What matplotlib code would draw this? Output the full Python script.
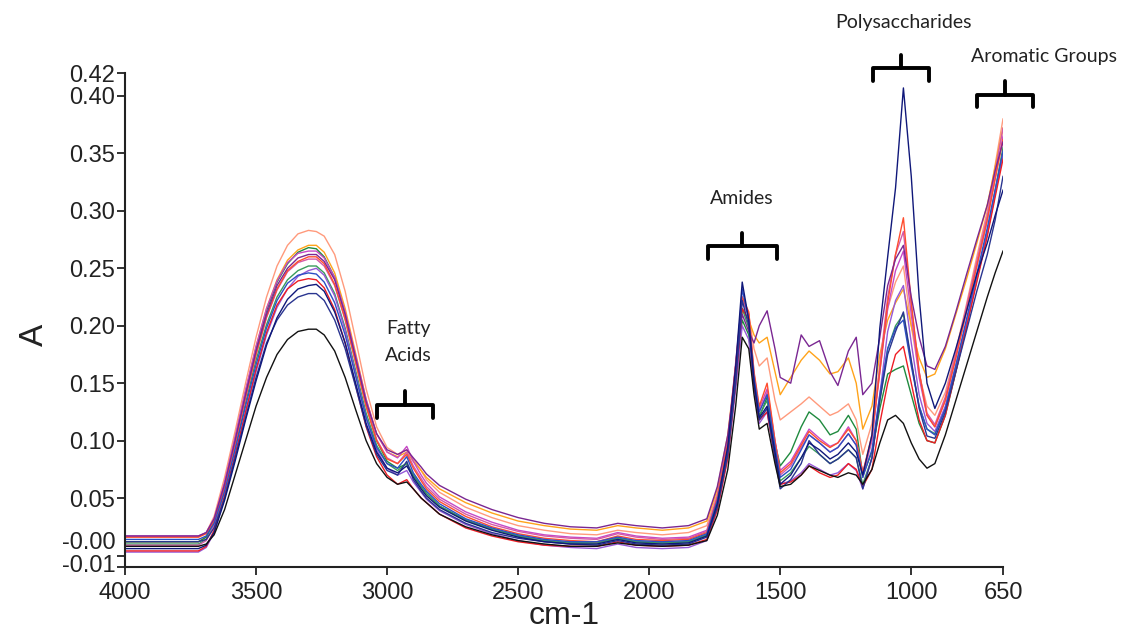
import matplotlib
matplotlib.use("Agg")
import matplotlib.pyplot as plt
import matplotlib.transforms as mtransforms

# wavenumber grid (cm-1) shared by all spectra
wavenumbers = [4000, 3720, 3690, 3660, 3620, 3580, 3540, 3500, 3460, 3420, 3380, 3340, 3300, 3270, 3240,
               3200, 3160, 3120, 3080, 3040, 3000, 2960, 2925, 2900, 2870, 2850, 2800, 2700, 2600, 2500,
               2400, 2300, 2200, 2120, 2050, 1950, 1850, 1780, 1740, 1700, 1670, 1645, 1620, 1600, 1580,
               1550, 1520, 1500, 1460, 1420, 1390, 1350, 1310, 1280, 1240, 1210, 1185, 1150, 1120, 1090,
               1060, 1030, 1000, 970, 940, 910, 870, 830, 790, 750, 710, 680, 650]

# absorbance of each sample
spec_salmon = [0.016, 0.016, 0.020, 0.034, 0.068, 0.108, 0.150, 0.190, 0.225, 0.252, 0.270, 0.280, 0.283, 0.282, 0.278, 0.262, 0.230, 0.188, 0.145, 0.112, 0.094,
               0.088, 0.092, 0.084, 0.074, 0.066, 0.055, 0.042, 0.033, 0.026, 0.022, 0.019, 0.018, 0.022, 0.020, 0.018, 0.020, 0.026,
               0.055, 0.100, 0.165, 0.225, 0.210, 0.180, 0.165, 0.172, 0.135, 0.118, 0.125, 0.132, 0.138, 0.130, 0.122, 0.125, 0.132, 0.118, 0.088,
               0.115, 0.165, 0.215, 0.238, 0.252, 0.200, 0.158, 0.130, 0.122, 0.142, 0.178, 0.218, 0.260, 0.300, 0.340, 0.380]
spec_orange = [0.012, 0.012, 0.016, 0.030, 0.062, 0.102, 0.143, 0.182, 0.215, 0.240, 0.257, 0.266, 0.270, 0.270, 0.264, 0.246, 0.215, 0.176, 0.136, 0.106, 0.090,
               0.086, 0.090, 0.082, 0.074, 0.068, 0.058, 0.046, 0.037, 0.030, 0.026, 0.023, 0.022, 0.026, 0.024, 0.022, 0.024, 0.030,
               0.058, 0.105, 0.165, 0.215, 0.205, 0.192, 0.185, 0.190, 0.160, 0.140, 0.155, 0.170, 0.178, 0.170, 0.158, 0.160, 0.172, 0.150, 0.110,
               0.130, 0.175, 0.205, 0.220, 0.232, 0.200, 0.172, 0.155, 0.158, 0.180, 0.210, 0.240, 0.272, 0.305, 0.338, 0.372]
spec_green = [0.012, 0.012, 0.016, 0.030, 0.062, 0.101, 0.142, 0.180, 0.213, 0.238, 0.254, 0.264, 0.268, 0.267, 0.260, 0.242, 0.210, 0.171, 0.131, 0.100, 0.082,
              0.076, 0.080, 0.070, 0.060, 0.054, 0.043, 0.031, 0.023, 0.017, 0.013, 0.011, 0.011, 0.015, 0.012, 0.011, 0.012, 0.018,
              0.046, 0.090, 0.150, 0.205, 0.192, 0.150, 0.120, 0.138, 0.098, 0.078, 0.090, 0.112, 0.125, 0.118, 0.105, 0.108, 0.122, 0.110, 0.070,
              0.090, 0.128, 0.158, 0.162, 0.165, 0.140, 0.115, 0.100, 0.098, 0.122, 0.160, 0.200, 0.240, 0.280, 0.315, 0.350]
spec_green2 = [0.010, 0.010, 0.014, 0.026, 0.056, 0.094, 0.133, 0.170, 0.201, 0.225, 0.240, 0.248, 0.252, 0.252, 0.246, 0.228, 0.198, 0.161, 0.124, 0.096, 0.080,
               0.074, 0.080, 0.070, 0.060, 0.054, 0.043, 0.031, 0.023, 0.017, 0.013, 0.011, 0.011, 0.015, 0.012, 0.011, 0.012, 0.018,
               0.045, 0.090, 0.155, 0.215, 0.198, 0.150, 0.122, 0.135, 0.090, 0.065, 0.072, 0.085, 0.095, 0.088, 0.080, 0.084, 0.092, 0.085, 0.062,
               0.085, 0.135, 0.180, 0.200, 0.210, 0.168, 0.130, 0.110, 0.106, 0.128, 0.165, 0.202, 0.242, 0.282, 0.318, 0.355]
spec_violet = [0.003, 0.003, 0.007, 0.020, 0.050, 0.086, 0.124, 0.160, 0.192, 0.216, 0.232, 0.243, 0.248, 0.250, 0.244, 0.226, 0.196, 0.158, 0.120, 0.092, 0.076,
               0.070, 0.074, 0.064, 0.055, 0.049, 0.039, 0.027, 0.019, 0.013, 0.009, 0.007, 0.006, 0.010, 0.007, 0.006, 0.007, 0.013,
               0.040, 0.085, 0.145, 0.200, 0.188, 0.145, 0.115, 0.125, 0.085, 0.062, 0.065, 0.072, 0.080, 0.075, 0.070, 0.072, 0.080, 0.074, 0.058,
               0.085, 0.140, 0.195, 0.222, 0.235, 0.185, 0.140, 0.115, 0.108, 0.130, 0.165, 0.202, 0.240, 0.280, 0.315, 0.350]
spec_orchid = [0.017, 0.017, 0.020, 0.032, 0.064, 0.103, 0.144, 0.182, 0.215, 0.239, 0.255, 0.263, 0.265, 0.265, 0.259, 0.242, 0.212, 0.174, 0.136, 0.106, 0.090,
               0.085, 0.095, 0.082, 0.070, 0.063, 0.051, 0.038, 0.029, 0.022, 0.018, 0.016, 0.015, 0.020, 0.017, 0.015, 0.016, 0.022,
               0.052, 0.100, 0.168, 0.225, 0.210, 0.158, 0.128, 0.145, 0.100, 0.074, 0.082, 0.098, 0.110, 0.102, 0.095, 0.098, 0.112, 0.100, 0.072,
               0.102, 0.160, 0.215, 0.248, 0.265, 0.210, 0.155, 0.122, 0.112, 0.135, 0.172, 0.212, 0.252, 0.292, 0.328, 0.365]
spec_magenta = [0.009, 0.009, 0.013, 0.026, 0.058, 0.097, 0.137, 0.175, 0.207, 0.231, 0.247, 0.255, 0.258, 0.258, 0.252, 0.235, 0.205, 0.168, 0.130, 0.101, 0.085,
                0.080, 0.090, 0.078, 0.067, 0.060, 0.049, 0.036, 0.027, 0.021, 0.017, 0.015, 0.014, 0.019, 0.016, 0.014, 0.015, 0.021,
                0.050, 0.098, 0.165, 0.222, 0.208, 0.156, 0.125, 0.142, 0.098, 0.070, 0.078, 0.094, 0.105, 0.098, 0.090, 0.094, 0.106, 0.096, 0.068,
                0.100, 0.165, 0.225, 0.262, 0.282, 0.218, 0.160, 0.124, 0.114, 0.138, 0.176, 0.216, 0.256, 0.296, 0.334, 0.372]
spec_tomato = [0.016, 0.016, 0.019, 0.030, 0.060, 0.098, 0.138, 0.175, 0.208, 0.232, 0.248, 0.256, 0.260, 0.260, 0.254, 0.236, 0.206, 0.168, 0.130, 0.100, 0.084,
               0.080, 0.088, 0.076, 0.065, 0.058, 0.047, 0.034, 0.025, 0.019, 0.015, 0.013, 0.012, 0.017, 0.014, 0.013, 0.014, 0.020,
               0.050, 0.098, 0.165, 0.225, 0.212, 0.160, 0.130, 0.150, 0.100, 0.072, 0.080, 0.096, 0.108, 0.100, 0.094, 0.098, 0.110, 0.100, 0.072,
               0.105, 0.160, 0.220, 0.262, 0.294, 0.220, 0.160, 0.122, 0.112, 0.135, 0.172, 0.212, 0.252, 0.292, 0.328, 0.362]
spec_red = [0.004, 0.004, 0.008, 0.022, 0.052, 0.088, 0.125, 0.162, 0.194, 0.218, 0.232, 0.239, 0.241, 0.240, 0.233, 0.214, 0.185, 0.148, 0.112, 0.086, 0.070,
            0.062, 0.066, 0.058, 0.050, 0.046, 0.036, 0.024, 0.017, 0.012, 0.009, 0.008, 0.008, 0.012, 0.009, 0.008, 0.009, 0.014,
            0.040, 0.085, 0.150, 0.215, 0.205, 0.150, 0.118, 0.125, 0.085, 0.062, 0.064, 0.070, 0.078, 0.072, 0.068, 0.070, 0.080, 0.075, 0.060,
            0.075, 0.115, 0.150, 0.175, 0.182, 0.150, 0.118, 0.100, 0.098, 0.122, 0.160, 0.198, 0.238, 0.278, 0.312, 0.345]
spec_blue = [0.014, 0.014, 0.017, 0.028, 0.056, 0.092, 0.130, 0.166, 0.198, 0.222, 0.237, 0.244, 0.246, 0.245, 0.238, 0.220, 0.192, 0.156, 0.120, 0.094, 0.080,
             0.076, 0.086, 0.072, 0.062, 0.056, 0.045, 0.032, 0.024, 0.018, 0.014, 0.012, 0.012, 0.016, 0.013, 0.012, 0.013, 0.019,
             0.048, 0.092, 0.155, 0.232, 0.205, 0.155, 0.125, 0.140, 0.095, 0.068, 0.075, 0.092, 0.105, 0.098, 0.090, 0.094, 0.106, 0.096, 0.068,
             0.092, 0.140, 0.180, 0.198, 0.205, 0.165, 0.130, 0.110, 0.105, 0.128, 0.165, 0.205, 0.245, 0.285, 0.318, 0.352]
spec_purple = [0.017, 0.017, 0.020, 0.032, 0.062, 0.100, 0.140, 0.178, 0.210, 0.235, 0.250, 0.259, 0.262, 0.262, 0.256, 0.240, 0.210, 0.172, 0.134, 0.106, 0.092,
               0.088, 0.092, 0.085, 0.077, 0.071, 0.061, 0.049, 0.040, 0.033, 0.028, 0.025, 0.024, 0.028, 0.026, 0.024, 0.026, 0.032,
               0.060, 0.105, 0.160, 0.210, 0.195, 0.185, 0.200, 0.213, 0.180, 0.155, 0.150, 0.192, 0.182, 0.187, 0.160, 0.148, 0.178, 0.190, 0.140,
               0.150, 0.190, 0.235, 0.258, 0.270, 0.225, 0.190, 0.165, 0.162, 0.182, 0.212, 0.244, 0.275, 0.305, 0.335, 0.360]
spec_navy2 = [0.012, 0.012, 0.014, 0.024, 0.050, 0.085, 0.120, 0.155, 0.185, 0.205, 0.218, 0.225, 0.228, 0.228, 0.222, 0.205, 0.180, 0.147, 0.113, 0.088, 0.074,
              0.070, 0.082, 0.066, 0.056, 0.050, 0.040, 0.028, 0.020, 0.015, 0.012, 0.010, 0.009, 0.013, 0.010, 0.009, 0.010, 0.016,
              0.042, 0.088, 0.150, 0.222, 0.200, 0.150, 0.118, 0.128, 0.085, 0.058, 0.066, 0.080, 0.100, 0.088, 0.080, 0.084, 0.092, 0.085, 0.058,
              0.085, 0.135, 0.175, 0.195, 0.212, 0.170, 0.128, 0.104, 0.102, 0.125, 0.160, 0.195, 0.230, 0.262, 0.292, 0.330]
spec_navy = [0.006, 0.006, 0.009, 0.020, 0.048, 0.082, 0.118, 0.152, 0.183, 0.207, 0.223, 0.232, 0.235, 0.236, 0.230, 0.212, 0.185, 0.150, 0.115, 0.090, 0.076,
             0.072, 0.078, 0.068, 0.058, 0.052, 0.042, 0.030, 0.022, 0.016, 0.012, 0.010, 0.010, 0.014, 0.011, 0.010, 0.011, 0.017,
             0.045, 0.095, 0.165, 0.238, 0.205, 0.150, 0.120, 0.130, 0.090, 0.062, 0.070, 0.085, 0.098, 0.092, 0.084, 0.088, 0.098, 0.090, 0.070,
             0.105, 0.198, 0.260, 0.320, 0.407, 0.330, 0.225, 0.150, 0.128, 0.150, 0.180, 0.212, 0.245, 0.272, 0.296, 0.318]
spec_black = [0.008, 0.008, 0.010, 0.018, 0.040, 0.070, 0.100, 0.130, 0.155, 0.175, 0.188, 0.195, 0.197, 0.197, 0.192, 0.178, 0.155, 0.127, 0.100, 0.080, 0.068,
              0.062, 0.064, 0.058, 0.050, 0.046, 0.036, 0.025, 0.018, 0.013, 0.010, 0.008, 0.008, 0.011, 0.009, 0.008, 0.009, 0.013,
              0.035, 0.075, 0.130, 0.190, 0.180, 0.140, 0.110, 0.115, 0.080, 0.060, 0.062, 0.070, 0.078, 0.074, 0.070, 0.068, 0.072, 0.070, 0.062,
              0.075, 0.098, 0.118, 0.122, 0.115, 0.098, 0.084, 0.076, 0.080, 0.105, 0.135, 0.165, 0.195, 0.225, 0.246, 0.265]

spectra = [spec_salmon, spec_orange, spec_green, spec_green2, spec_violet, spec_orchid, spec_magenta,
           spec_tomato, spec_red, spec_blue, spec_purple, spec_navy2, spec_navy, spec_black]
colors = ['#ff9a7c', '#ffa31a', '#1f8a3e', '#3a9c5c', '#9658d6', '#c64ac6', '#d45aa8',
          '#ff4d2e', '#ee1d24', '#2c4fc4', '#7a2792', '#2a3590', '#10187a', '#111111']

xticks = [4000, 3500, 3000, 2500, 2000, 1500, 1000, 650]
yticks = [-0.01, 0.0, 0.05, 0.10, 0.15, 0.20, 0.25, 0.30, 0.35, 0.40, 0.42]
ytick_labels = ['-0.01', '-0.00', '0.05', '0.10', '0.15', '0.20', '0.25', '0.30', '0.35', '0.40', '0.42']

# band annotations: label, text position, brace span (x0, x1), brace height
bands = [
    ("Fatty\nAcids", (2920, 0.186), (3038, 2825), 0.131),
    ("Amides", (1646, 0.311), (1776, 1512), 0.269),
    ("Polysaccharides", (1028, 0.464), (1146, 932), 0.424),
    ("Aromatic Groups", (494, 0.434), (749, 535), 0.401),
]

plt.rcParams['font.family'] = ['Liberation Sans', 'DejaVu Sans']

fig = plt.figure(figsize=(11.21, 6.33), dpi=100)
ax = fig.add_axes([125 / 1121, 1 - 567 / 633, 878 / 1121, 494 / 633])

for ys, c in zip(spectra, colors):
    ax.plot(wavenumbers, ys, color=c, linewidth=1.0)

ax.set_xlim(4000, 650)
ax.set_ylim(-0.01, 0.42)
ax.set_xticks(xticks)
ax.set_xticklabels([str(t) for t in xticks])
ax.set_yticks(yticks)
ax.set_yticklabels(ytick_labels)

for side in ['top', 'right']:
    ax.spines[side].set_visible(False)
for side in ['left', 'bottom']:
    ax.spines[side].set_linewidth(1.5)
    ax.spines[side].set_color('#222222')

ax.tick_params(axis='both', direction='out', length=6, width=1.3, colors='#222222',
               labelsize=17, labelcolor='#222222')
ax.tick_params(axis='y', pad=1)
ax.tick_params(axis='x', pad=5)

# the software draws the two lowest labels a bit higher than their ticks
labels = ax.get_yticklabels()
labels[1].set_transform(labels[1].get_transform() + mtransforms.ScaledTranslation(0, 15 / 100, fig.dpi_scale_trans))
labels[0].set_transform(labels[0].get_transform() + mtransforms.ScaledTranslation(0, 4 / 100, fig.dpi_scale_trans))

ax.set_xlabel('cm-1', fontsize=23, color='#222222')
ax.xaxis.set_label_coords(0.5, -0.068)
ax.set_ylabel('A', fontsize=24, color='#222222')
ax.yaxis.set_label_coords(-0.085, 0.47)

for label, (tx, ty), (x0, x1), yb in bands:
    xm = (x0 + x1) / 2
    ax.plot([x0, x0, x1, x1], [yb - 0.011, yb, yb, yb - 0.011], color='black', linewidth=2.8,
            solid_joinstyle='round', solid_capstyle='round', clip_on=False)
    ax.plot([xm, xm], [yb, yb + 0.012], color='black', linewidth=2.8,
            solid_capstyle='round', clip_on=False)
    ax.text(tx, ty, label, ha='center', va='center', fontsize=14, color='#222222',
            family=['Lato', 'DejaVu Sans'], linespacing=1.75, clip_on=False)

fig.savefig('out.png', dpi=100)
